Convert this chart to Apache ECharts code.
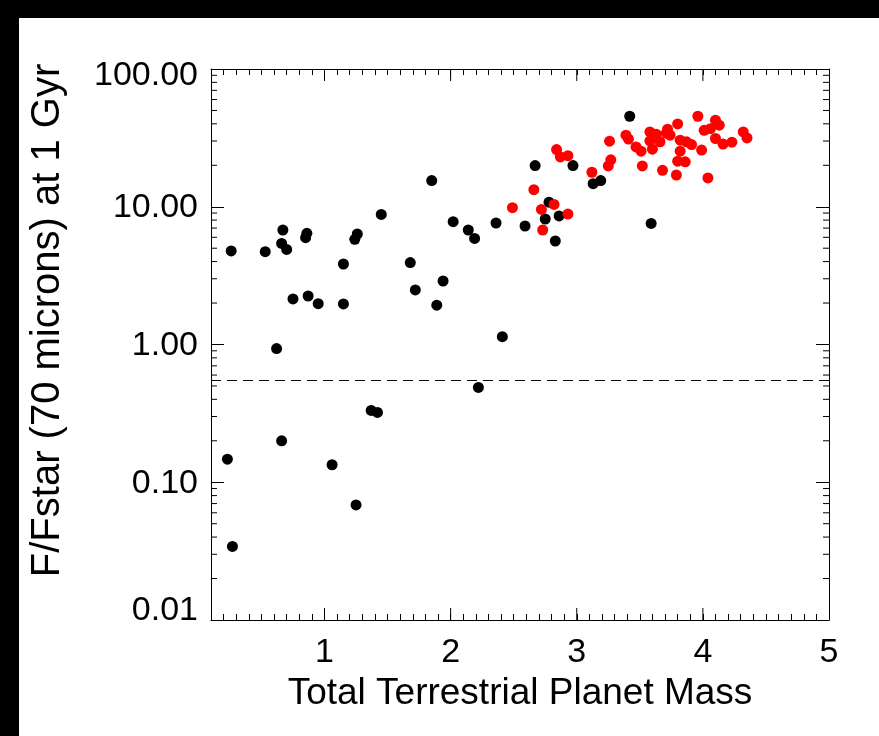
<!DOCTYPE html>
<html>
<head>
<meta charset="utf-8">
<script src="https://cdn.jsdelivr.net/npm/echarts@6/dist/echarts.min.js"></script>
<style>
  html, body { margin: 0; padding: 0; background: #fff; }
  #chart { width: 879px; height: 736px; }
</style>
</head>
<body>
<div id="chart"></div>
<script>
// Terrestrial planet mass vs. 70-micron excess at 1 Gyr
const blackMass = [
  0.26, 0.53, 0.67, 0.66, 0.70, 0.86, 0.85, 1.26, 1.24, 1.45,
  1.15, 1.68, 1.72, 0.75, 0.87, 0.95, 1.15, 0.62,
  3.42, 1.85, 2.67, 2.97, 3.13, 3.19, 2.02, 2.14, 2.19, 2.36,
  2.59, 2.78, 2.75, 2.86, 2.83, 3.59, 1.94, 1.89, 2.41,
  2.22, 1.37, 1.42, 0.66, 0.23, 1.06, 1.25, 0.27
];
const blackFlux = [
  4.78, 4.72, 6.78, 5.42, 4.90, 6.41, 5.96, 6.34, 5.80, 8.80,
  3.84, 3.93, 2.49, 2.14, 2.25, 1.98, 1.97, 0.935,
  45.4, 15.5, 19.9, 19.9, 14.7, 15.5, 7.79, 6.78, 5.89, 7.62,
  7.25, 10.8, 8.15, 8.57, 5.64, 7.57, 2.89, 1.93, 1.14,
  0.488, 0.332, 0.321, 0.200, 0.147, 0.134, 0.0685, 0.0342
];
const redMass = [
  2.49, 2.66, 2.72, 2.82, 2.73, 2.93, 2.84, 2.87, 2.93, 3.12,
  3.26, 3.27, 3.25, 3.39, 3.41, 3.47, 3.51, 3.52, 3.58, 3.63,
  3.58, 3.60, 3.66, 3.68, 3.72, 3.74, 3.80, 3.82, 3.87, 3.91,
  3.82, 3.80, 3.86, 3.79, 3.99, 3.96, 4.04, 4.01, 4.06, 4.10,
  4.13, 4.10, 4.16, 4.23, 4.32, 4.35, 3.71
];
const redFlux = [
  9.84, 13.3, 9.56, 10.4, 6.78, 8.85, 26.0, 23.0, 23.5, 17.8,
  29.9, 21.9, 19.8, 33.1, 31.0, 27.2, 25.3, 19.8, 34.9, 33.6,
  30.1, 26.2, 29.6, 18.4, 36.6, 33.1, 39.9, 30.4, 29.6, 28.3,
  25.3, 21.4, 21.2, 17.0, 25.8, 45.4, 16.2, 35.9, 36.9, 42.5,
  39.1, 31.3, 28.5, 29.4, 34.9, 31.6, 34.2
];
// detection threshold drawn as a dashed line
const threshold = 0.55;

// axis ticks
const xMin = 0.1, xMax = 5;
const xMajorTicks = [1, 2, 3, 4];
const yMin = 0.01, yMax = 100;
const yDecades = [0.01, 0.1, 1, 10];
const yMinorSteps = [2, 3, 4, 5, 6, 7, 8, 9];
const yMinorTicks = [];
yDecades.forEach(d => yMinorSteps.forEach(s => yMinorTicks.push(+(d * s).toPrecision(3))));

const FONT = "'Liberation Sans', Arial, Helvetica, sans-serif";
const zip = (a, b) => a.map((v, i) => [v, b[i]]);

// extra ticks: long x ticks at integers, y minor ticks at 2..9 per decade
const tickData = xMajorTicks.map(v => ['x', v]).concat(yMinorTicks.map(v => ['y', v]));

function renderTick(params, api) {
  const cs = params.coordSys;
  const kind = tickData[params.dataIndex][0];
  const v = tickData[params.dataIndex][1];
  const style = { stroke: '#000', lineWidth: 1 };
  if (kind === 'x') {
    const px = api.coord([v, yMax])[0];
    const L = 12;
    return { type: 'group', children: [
      { type: 'line', shape: { x1: px, y1: cs.y + cs.height, x2: px, y2: cs.y + cs.height - L }, style },
      { type: 'line', shape: { x1: px, y1: cs.y, x2: px, y2: cs.y + L }, style }
    ]};
  }
  const py = api.coord([xMin, v])[1];
  const L = 6;
  return { type: 'group', children: [
    { type: 'line', shape: { x1: cs.x, y1: py, x2: cs.x + L, y2: py }, style },
    { type: 'line', shape: { x1: cs.x + cs.width, y1: py, x2: cs.x + cs.width - L, y2: py }, style }
  ]};
}

const axisLineStyle = { lineStyle: { color: '#000', width: 1 } };
const labelText = { color: '#000', fontFamily: FONT, fontSize: 34 };

// y tick labels: end labels are nudged inside the frame
function yLabel(v) {
  const s = Number(v).toFixed(2);
  if (Math.abs(v - yMax) < 1e-9) return '{top|' + s + '}';
  if (Math.abs(v - yMin) < 1e-12) return '{bot|' + s + '}';
  return '{mid|' + s + '}';
}

const chart = echarts.init(document.getElementById('chart'), null, { renderer: 'canvas' });
chart.setOption({
  backgroundColor: '#fff',
  animation: false,
  graphic: [
    { type: 'rect', left: 0, top: 0, shape: { width: 879, height: 18 }, style: { fill: '#000' } },
    { type: 'rect', left: 0, top: 0, shape: { width: 19, height: 736 }, style: { fill: '#000' } }
  ],
  grid: { left: 211, top: 69, width: 618, height: 551, containLabel: false },
  xAxis: [
    {
      type: 'value', position: 'bottom', min: xMin, max: xMax, interval: 0.1,
      axisLine: axisLineStyle,
      axisTick: { inside: true, length: 6, lineStyle: { color: '#000', width: 1 } },
      axisLabel: Object.assign({
        margin: 16,
        formatter: v => Math.abs(v - Math.round(v)) < 1e-6 ? String(Math.round(v)) : ''
      }, labelText),
      splitLine: { show: false },
      name: 'Total Terrestrial Planet Mass', nameLocation: 'middle', nameGap: 49,
      nameTextStyle: { color: '#000', fontFamily: FONT, fontSize: 37 }
    },
    {
      type: 'value', position: 'top', min: xMin, max: xMax, interval: 0.1,
      axisLine: axisLineStyle,
      axisTick: { inside: true, length: 6, lineStyle: { color: '#000', width: 1 } },
      axisLabel: { show: false }, splitLine: { show: false }
    }
  ],
  yAxis: [
    {
      type: 'log', logBase: 10, position: 'left', min: yMin, max: yMax, interval: 1,
      axisLine: axisLineStyle,
      axisTick: { inside: true, length: 13, lineStyle: { color: '#000', width: 1 } },
      axisLabel: Object.assign({
        margin: 13, formatter: yLabel,
        rich: {
          top: Object.assign({ padding: [14, 0, 0, 0] }, labelText),
          bot: Object.assign({ padding: [0, 0, 18, 0] }, labelText),
          mid: Object.assign({ padding: [2, 0, 0, 0] }, labelText)
        }
      }, labelText),
      splitLine: { show: false },
      name: 'F/Fstar (70 microns) at 1 Gyr', nameLocation: 'middle', nameGap: 143,
      nameTextStyle: { color: '#000', fontFamily: FONT, fontSize: 40, padding: [0, 0, 0, 48] }
    },
    {
      type: 'log', logBase: 10, position: 'right', min: yMin, max: yMax, interval: 1,
      axisLine: axisLineStyle,
      axisTick: { inside: true, length: 13, lineStyle: { color: '#000', width: 1 } },
      axisLabel: { show: false }, splitLine: { show: false }
    }
  ],
  series: [
    {
      type: 'custom', name: 'ticks', silent: true, z: 5,
      xAxisIndex: 0, yAxisIndex: 0,
      data: tickData.map(t => t[1]),
      renderItem: renderTick
    },
    {
      type: 'scatter', name: 'others', xAxisIndex: 0, yAxisIndex: 0,
      symbol: 'circle', symbolSize: 11,
      itemStyle: { color: '#000', opacity: 1 },
      data: zip(blackMass, blackFlux),
      markLine: {
        silent: true, symbol: 'none', label: { show: false },
        lineStyle: { color: '#000', width: 1, type: [10, 6] },
        data: [{ yAxis: threshold }]
      },
      z: 3
    },
    {
      type: 'scatter', name: 'selected', xAxisIndex: 0, yAxisIndex: 0,
      symbol: 'circle', symbolSize: 11,
      itemStyle: { color: '#ff0000', opacity: 1 },
      data: zip(redMass, redFlux),
      z: 4
    }
  ]
});
</script>
</body>
</html>
